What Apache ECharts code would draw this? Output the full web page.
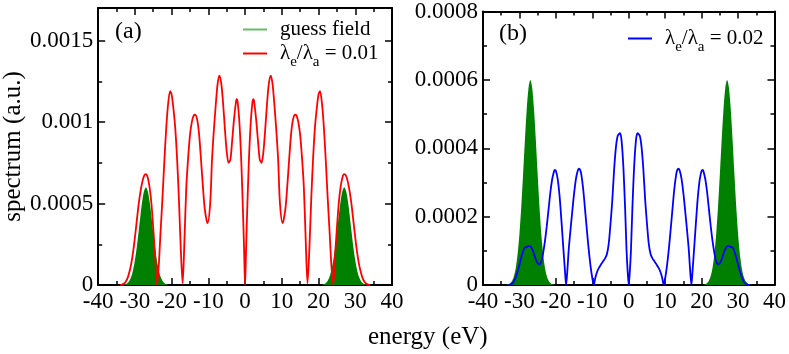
<!DOCTYPE html>
<html>
<head>
<meta charset="utf-8">
<script src="https://cdn.jsdelivr.net/npm/echarts@6/dist/echarts.min.js"></script>
<style>
  html, body { margin: 0; padding: 0; background: #fff; }
  #chart { width: 789px; height: 354px; }
</style>
</head>
<body>
<div id="chart"></div>
<script>
// guess field (same in both panels)
const guessEnergy = [-34, -33, -32.5, -32, -31.5, -31, -30.5, -30, -29.5, -29, -28.5, -28, -27.5, -27,
  -26.5, -26, -25.5, -25, -24.5, -24, -23.5, -23, -22.5, -22, -21.5, -21, -20,
  20, 21, 21.5, 22, 22.5, 23, 23.5, 24, 24.5, 25, 25.5, 26, 26.5, 27,
  27.5, 28, 28.5, 29, 29.5, 30, 30.5, 31, 31.5, 32, 32.5, 33, 34];
const guessField = [0, 0.0000023, 0.0000056, 0.0000127, 0.0000264, 0.0000508, 0.0000906, 0.00015, 0.000229, 0.000324, 0.000424, 0.000514, 0.000577, 0.0006,
  0.000577, 0.000514, 0.000424, 0.000324, 0.000229, 0.00015, 0.0000906, 0.0000508, 0.0000264, 0.0000127, 0.0000056, 0.0000023, 0,
  0, 0.0000023, 0.0000056, 0.0000127, 0.0000264, 0.0000508, 0.0000906, 0.00015, 0.000229, 0.000324, 0.000424, 0.000514, 0.000577, 0.0006,
  0.000577, 0.000514, 0.000424, 0.000324, 0.000229, 0.00015, 0.0000906, 0.0000508, 0.0000264, 0.0000127, 0.0000056, 0.0000023, 0];

// panel (a): lambda_e/lambda_a = 0.01
const energyA = [-34, -33.5, -33, -32.5, -32, -31.5, -31, -30.5, -30, -29.5, -29, -28.5, -28, -27.5, -27, -26.5, -26, -25.5, -25, -24.5, -24,
  -23.5, -23, -22.5, -22, -21.5, -21, -20.4, -20, -19.5, -19, -18.5, -18, -17.5, -17,
  -16.5, -16, -15.5, -15, -14.5, -14, -13.6, -13, -12.5, -12, -11.5, -11, -10.5, -10.2,
  -9.5, -9, -8.5, -8, -7.5, -7, -6.5, -6, -5.5, -5, -4.5, -4, -3.5, -3, -2.5, -2.3, -2, -1.5, -1, -0.5, -0.25, 0,
  0.25, 0.5, 1, 1.5, 2, 2.3, 2.5, 3, 3.5, 4, 4.5, 5, 5.5, 6, 6.5, 7, 7.5, 8, 8.5, 9, 9.5,
  10.2, 10.5, 11, 11.5, 12, 12.5, 13, 13.6, 14, 14.5, 15, 15.5, 16, 16.5,
  17, 17.5, 18, 18.5, 19, 19.5, 20, 20.4, 21, 21.5, 22, 22.5, 23, 23.5,
  24, 24.5, 25, 25.5, 26, 26.5, 27, 27.5, 28, 28.5, 29, 29.5, 30, 30.5, 31, 31.5, 32, 32.5, 33, 33.5, 34];
const spectrumA = [0, 0.000003, 0.000008, 0.00002, 0.000042, 0.00008, 0.00013, 0.0002, 0.00029, 0.00039, 0.00049, 0.00057, 0.00063, 0.00067, 0.00068, 0.00066, 0.0006, 0.0005, 0.00035, 0.00018, 0,
  0.00012, 0.00033, 0.00053, 0.00075, 0.00095, 0.0011, 0.00119, 0.00117, 0.00108, 0.00096, 0.00077, 0.00052, 0.00022, 0.00001,
  0.00028, 0.0006, 0.00078, 0.00092, 0.001, 0.00104, 0.001045, 0.00101, 0.00092, 0.00077, 0.00061, 0.00047, 0.0004, 0.00038,
  0.0005, 0.00077, 0.00095, 0.0011, 0.00123, 0.001285, 0.00124, 0.00112, 0.00096, 0.00082, 0.00075, 0.00077, 0.00089, 0.00102, 0.00112, 0.00114, 0.00112, 0.00098, 0.00074, 0.0004, 0.0002, 0,
  0.0002, 0.0004, 0.00074, 0.00098, 0.00112, 0.00114, 0.00112, 0.00102, 0.00089, 0.00077, 0.00075, 0.00082, 0.00096, 0.00112, 0.00124, 0.001285, 0.00123, 0.0011, 0.00095, 0.00077, 0.0005,
  0.00038, 0.0004, 0.00047, 0.00061, 0.00077, 0.00092, 0.00101, 0.001045, 0.00104, 0.001, 0.00092, 0.00078, 0.0006, 0.00028,
  0.00001, 0.00022, 0.00052, 0.00077, 0.00096, 0.00108, 0.00117, 0.00119, 0.0011, 0.00095, 0.00075, 0.00053, 0.00033, 0.00012,
  0, 0.00018, 0.00035, 0.0005, 0.0006, 0.00066, 0.00068, 0.00067, 0.00063, 0.00057, 0.00049, 0.00039, 0.00029, 0.0002, 0.00013, 0.00008, 0.000042, 0.00002, 0.000008, 0.000003, 0];

// panel (b): lambda_e/lambda_a = 0.02
const energyB = [-33, -32.5, -32, -31.5, -31, -30.5, -30, -29.5, -29, -28.5, -28, -27.5, -27, -26.5, -26, -25.5, -25, -24.6,
  -24, -23.5, -23, -22.5, -22, -21.5, -21, -20.5, -20.3, -20, -19.5, -19, -18.5, -18, -17.5, -17.2,
  -16.8, -16.5, -16, -15.5, -15, -14.5, -14, -13.7, -13.3, -13, -12.5, -12, -11.5, -11, -10.5, -10, -9.6,
  -9.2, -8.7, -8.2, -7.5, -7, -6.5, -6, -5.5, -5, -4.5, -4, -3.5, -3, -2.4, -2, -1.5, -1, -0.6, -0.3, 0,
  0.3, 0.6, 1, 1.5, 2, 2.4, 3, 3.5, 4, 4.5, 5, 5.5, 6, 6.5, 7, 7.5, 8.2, 8.7, 9.2,
  9.6, 10, 10.5, 11, 11.5, 12, 12.5, 13, 13.3, 13.7, 14, 14.5, 15, 15.5, 16, 16.5, 16.8,
  17.2, 17.5, 18, 18.5, 19, 19.5, 20, 20.3, 20.5, 21, 21.5, 22, 22.5, 23, 23.5, 24,
  24.6, 25, 25.5, 26, 26.5, 27, 27.5, 28, 28.5, 29, 29.5, 30, 30.5, 31, 31.5, 32, 32.5, 33];
const spectrumB = [0, 0.000001, 0.000004, 0.000011, 0.000023, 0.00004, 0.00006, 0.000081, 0.000098, 0.00011, 0.000111, 0.000114, 0.000113, 0.000105, 0.000091, 0.000075, 0.000064, 0.00006,
  0.000069, 0.000093, 0.000128, 0.000172, 0.000222, 0.000272, 0.00031, 0.000333, 0.000337, 0.000334, 0.00031, 0.000262, 0.000192, 0.000115, 0.00004, 0,
  0.00005, 0.0001, 0.00016, 0.000215, 0.000268, 0.00031, 0.000334, 0.00034, 0.000336, 0.000322, 0.00028, 0.000222, 0.000162, 0.000105, 0.000057, 0.00002, 0,
  0.00002, 0.000038, 0.00005, 0.000062, 0.00007, 0.000078, 0.00009, 0.00012, 0.00018, 0.00025, 0.00034, 0.000405, 0.000437, 0.000444, 0.000425, 0.00035, 0.000225, 0.0001, 0.00004, 0,
  0.00004, 0.0001, 0.000225, 0.00035, 0.000425, 0.000444, 0.000437, 0.000405, 0.00034, 0.00025, 0.00018, 0.00012, 0.00009, 0.000078, 0.00007, 0.000062, 0.00005, 0.000038, 0.00002,
  0, 0.00002, 0.000057, 0.000105, 0.000162, 0.000222, 0.00028, 0.000322, 0.000336, 0.00034, 0.000334, 0.00031, 0.000268, 0.000215, 0.00016, 0.0001, 0.00005,
  0, 0.00004, 0.000115, 0.000192, 0.000262, 0.00031, 0.000334, 0.000337, 0.000333, 0.00031, 0.000272, 0.000222, 0.000172, 0.000128, 0.000093, 0.000069,
  0.00006, 0.000064, 0.000075, 0.000091, 0.000105, 0.000113, 0.000114, 0.000111, 0.00011, 0.000098, 0.000081, 0.00006, 0.00004, 0.000023, 0.000011, 0.000004, 0.000001, 0];

const serif = '"Liberation Serif", "Times New Roman", serif';

function pairs(xs, ys) {
  return xs.map((x, i) => [x, ys[i]]);
}

function energyAxis(gridIndex, position, showLabel) {
  return {
    type: 'value', gridIndex, position, min: -40, max: 40, interval: 10,
    axisLine: { onZero: false, lineStyle: { color: '#000', width: 2 } },
    axisTick: { inside: true, length: 7, lineStyle: { color: '#000', width: 1.5 } },
    minorTick: { show: true, splitNumber: 2, length: 4, lineStyle: { color: '#000', width: 1.5 } },
    axisLabel: { show: showLabel, margin: 5, fontSize: 23, fontFamily: serif, color: '#000' },
    splitLine: { show: false },
  };
}

function spectrumAxis(gridIndex, position, showLabel, max, interval) {
  return {
    type: 'value', gridIndex, position, min: 0, max, interval,
    axisLine: { onZero: false, lineStyle: { color: '#000', width: 2 } },
    axisTick: { inside: true, length: 7, lineStyle: { color: '#000', width: 1.5 } },
    minorTick: { show: true, splitNumber: 2, length: 4, lineStyle: { color: '#000', width: 1.5 } },
    axisLabel: { show: showLabel, margin: 5, fontSize: 23, fontFamily: serif, color: '#000', showMaxLabel: max === 0.0008 },
    splitLine: { show: false },
  };
}

const legendRich = {
  m: { fontSize: 21, fontFamily: serif, color: '#000', lineHeight: 22 },
  s: { fontSize: 15, fontFamily: serif, color: '#000', lineHeight: 32, verticalAlign: 'bottom' },
};

function legendLabel(name) {
  if (name.indexOf('/') < 0) return '{m|' + name + '}';
  const v = name.split('= ')[1];
  return '{m|λ}{s|e}{m|/λ}{s|a}{m| = ' + v + '}';
}

const yNameA = spectrumAxis(0, 'left', true, 0.0017, 0.0005);
yNameA.name = 'spectrum (a.u.)';
yNameA.nameLocation = 'middle';
yNameA.nameGap = 70;
yNameA.nameTextStyle = { fontSize: 25, fontFamily: serif, color: '#000' };

const chart = echarts.init(document.getElementById('chart'));
chart.setOption({
  animation: false,
  backgroundColor: '#fff',
  grid: [
    { left: 98, top: 8, width: 294, height: 277 },
    { left: 483, top: 10, width: 295, height: 275 },
  ],
  xAxis: [
    energyAxis(0, 'bottom', true),
    energyAxis(0, 'top', false),
    energyAxis(1, 'bottom', true),
    energyAxis(1, 'top', false),
  ],
  yAxis: [
    yNameA,
    spectrumAxis(0, 'right', false, 0.0017, 0.0005),
    spectrumAxis(1, 'left', true, 0.0008, 0.0002),
    spectrumAxis(1, 'right', false, 0.0008, 0.0002),
  ],
  legend: [
    {
      orient: 'vertical', left: 243, top: 19, padding: 0, itemGap: 3,
      icon: 'rect', itemWidth: 24, itemHeight: 2,
      formatter: legendLabel,
      textStyle: { padding: [0, 0, 0, 8], rich: legendRich },
      data: [
        { name: 'guess field', itemStyle: { color: '#66bb66' } },
        { name: 'λe/λa = 0.01' },
      ],
    },
    {
      orient: 'vertical', left: 628, top: 28, padding: 0,
      icon: 'rect', itemWidth: 24, itemHeight: 2,
      formatter: legendLabel,
      textStyle: { padding: [0, 0, 0, 8], rich: legendRich },
      data: [{ name: 'λe/λa = 0.02' }],
    },
  ],
  graphic: [
    { type: 'text', left: 115, top: 20, style: { text: '(a)', font: '24px ' + serif, fill: '#000' } },
    { type: 'text', left: 499, top: 22, style: { text: '(b)', font: '24px ' + serif, fill: '#000' } },
    { type: 'text', left: 368, top: 325, style: { text: 'energy (eV)', font: '25px ' + serif, fill: '#000' } },
  ],
  series: [
    {
      name: 'guess field', type: 'line', xAxisIndex: 0, yAxisIndex: 0,
      data: pairs(guessEnergy, guessField), smooth: 0.3, symbol: 'none', z: 1,
      lineStyle: { width: 0 }, areaStyle: { color: '#008000', opacity: 1 }, itemStyle: { color: '#66bb66' },
    },
    {
      name: 'λe/λa = 0.01', type: 'line', xAxisIndex: 0, yAxisIndex: 0,
      data: pairs(energyA, spectrumA), smooth: 0.3, symbol: 'none', z: 2,
      lineStyle: { color: '#ff0000', width: 1.8 }, itemStyle: { color: '#ff0000' },
    },
    {
      name: 'guess field', type: 'line', xAxisIndex: 2, yAxisIndex: 2,
      data: pairs(guessEnergy, guessField), smooth: 0.3, symbol: 'none', z: 1,
      lineStyle: { width: 0 }, areaStyle: { color: '#008000', opacity: 1 }, itemStyle: { color: '#66bb66' },
    },
    {
      name: 'λe/λa = 0.02', type: 'line', xAxisIndex: 2, yAxisIndex: 2,
      data: pairs(energyB, spectrumB), smooth: 0.3, symbol: 'none', z: 2,
      lineStyle: { color: '#0000ff', width: 1.8 }, itemStyle: { color: '#0000ff' },
    },
  ],
});
</script>
</body>
</html>
